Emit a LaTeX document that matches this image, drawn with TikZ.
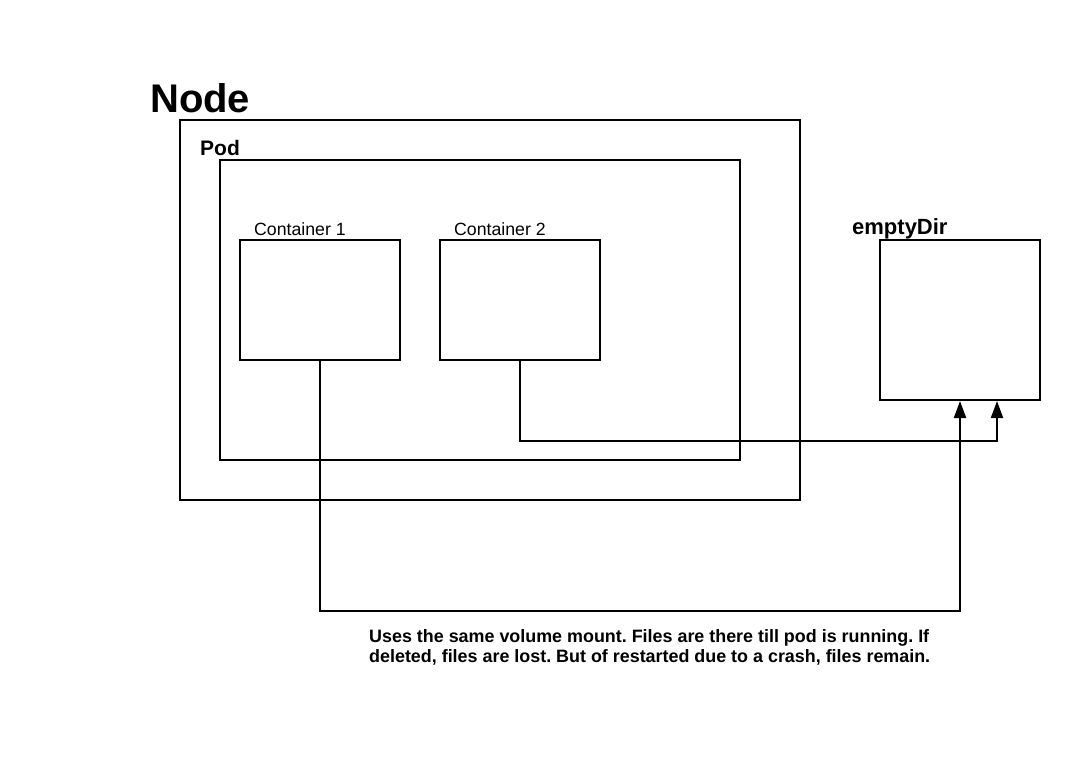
\documentclass[tikz,border=0pt]{standalone}
\usepackage{fontspec}
\setmainfont{Liberation Sans}
\usetikzlibrary{arrows.meta}
\tikzset{
  box/.style={draw, line width=2pt, inner sep=0pt},
  lbl/.style={inner sep=0pt, anchor=base west},
  conn/.style={line width=2pt, -{Triangle[length=17pt,width=12pt]}},
}
\begin{document}
\frenchspacing
\begin{tikzpicture}[x=1pt,y=-1pt]
\useasboundingbox (0,0) rectangle (1080,760);
\node[box, minimum width=620pt, minimum height=380pt] (nodebox) at (490,310) {};
\node[box, minimum width=520pt, minimum height=300pt] (pod) at (480,310) {};
\node[box, minimum width=160pt, minimum height=120pt] (c1) at (320,300) {};
\node[box, minimum width=160pt, minimum height=120pt] (c2) at (520,300) {};
\node[box, minimum width=160pt, minimum height=160pt] (ed) at (960,320) {};
\node[lbl, font=\fontsize{40}{48}\selectfont\bfseries] (tnode) at (150,113) {Node};
\node[lbl, font=\fontsize{21}{24}\selectfont\bfseries] (tpod) at (200,155) {Pod};
\node[lbl, font=\fontsize{17.7}{20}\selectfont] (tc1) at (254,235) {Container 1};
\node[lbl, font=\fontsize{17.7}{20}\selectfont] (tc2) at (454,235) {Container 2};
\node[lbl, font=\fontsize{22}{24}\selectfont\bfseries] (ted) at (852,234) {emptyDir};
\node[inner sep=0pt, anchor=north west, align=left, font=\fontsize{17.9}{20.5}\selectfont\bfseries] (note) at (369,629) {Uses the same volume mount. Files are there till pod is running. If\\deleted, files are lost. But of restarted due to a crash, files remain.};
\coordinate (ed2) at ([xshift=37pt]ed.south);
\draw[conn] (c1.south) -- ++(0,250) -| (ed.south);
\draw[conn] (c2.south) -- ++(0,80) -| (ed2);
\end{tikzpicture}
\end{document}
